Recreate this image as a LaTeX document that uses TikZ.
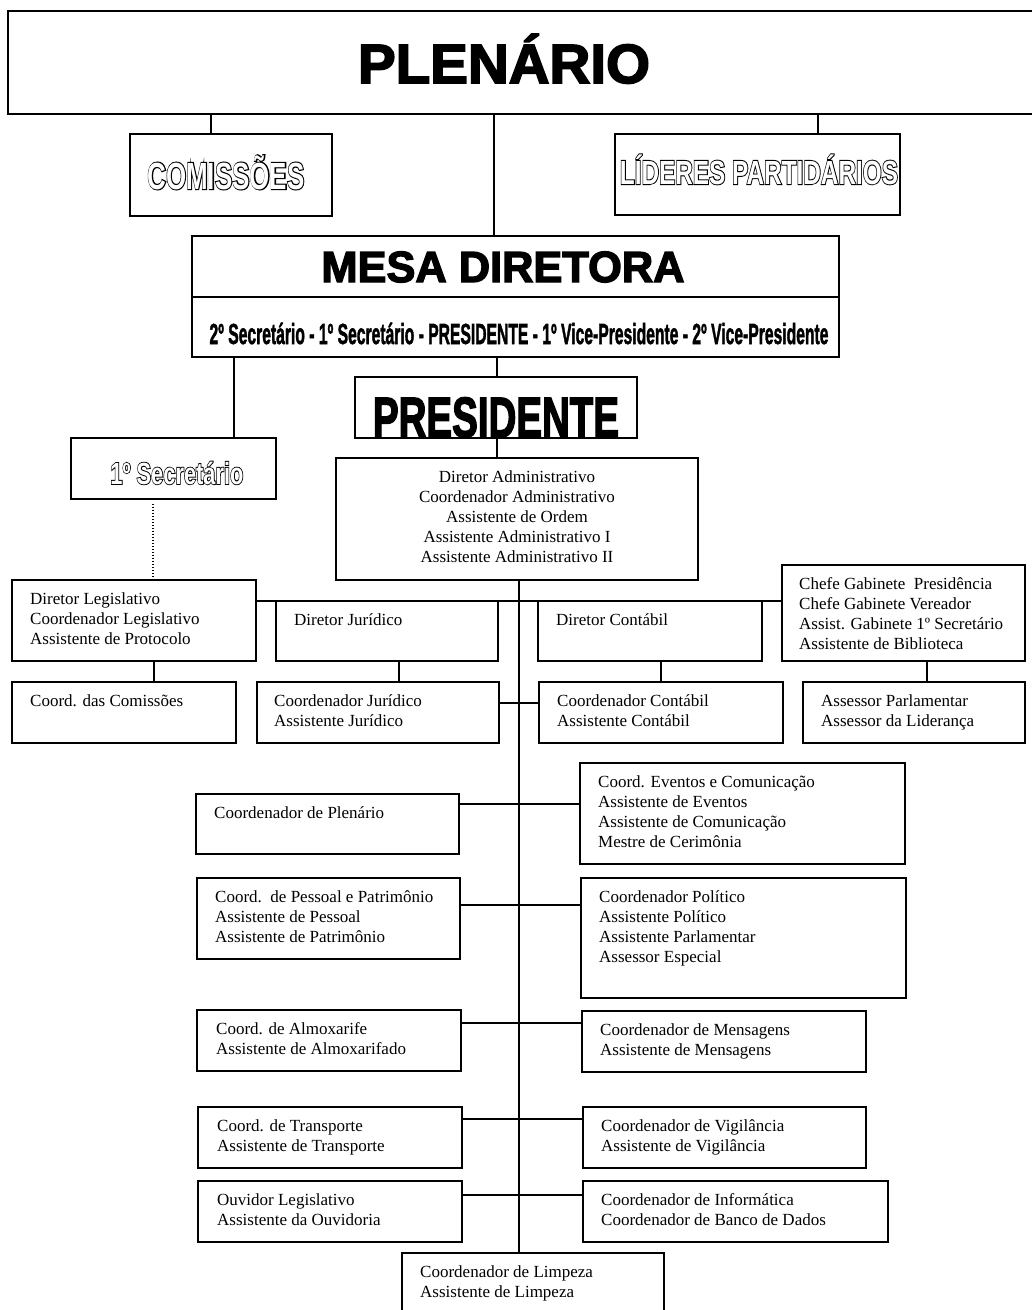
\documentclass[tikz,border=0pt]{standalone}
\usepackage{fontspec}
\setmainfont{Liberation Serif}
\newfontfamily\sansf{Liberation Sans}
\newfontfamily\heavyf{Liberation Sans}[BoldFeatures={FakeBold=3}]
\newfontfamily\semif{Liberation Sans}[BoldFeatures={FakeBold=2}]
\newfontfamily\halof{Liberation Sans}[BoldFeatures={FakeBold=6}]
\usepackage{graphicx}
\usetikzlibrary{fit}
\newcommand\fitcap[3]{\resizebox{#1}{#2}{\raisebox{0pt}[\fontcharht\font`H][0pt]{#3}}}
% outlined letters: a thick black copy under a white one
\newcommand\outl[1]{\rlap{\halof\bfseries #1}{\color{white}#1}}
\newcommand\bx[5]{\node[box, fit={(#2,#3) (#4,#5)}] (#1) {};}
\newcommand\tl[4]{\node[txt] (#1) at (#2,#3) {\rule{0pt}{16pt}#4};}
\tikzset{
  box/.style={draw, line width=1.6pt, inner sep=0pt, rectangle},
  txt/.style={inner sep=0pt, align=left, font=\fontsize{17}{20}\selectfont, anchor=north west},
  ctxt/.style={txt, align=center, anchor=north},
  ttl/.style={inner sep=0pt, anchor=base, font=\sansf\bfseries},
  heavy/.style={ttl, font=\heavyf\bfseries},
  semi/.style={ttl, font=\semif\bfseries},
  conn/.style={line width=1.6pt},
  hconn/.style={line width=2pt},
}
\begin{document}
\begin{tikzpicture}[x=1pt,y=-1pt]
\useasboundingbox (0,0) rectangle (1032,1310);
\clip (0,0) rectangle (1032,1310);
% boxes
\bx{plen}{8}{11}{1045}{114}
\bx{comiss}{130}{134}{332}{216}
\bx{lider}{615}{134}{900}{215}
\bx{mesa}{192}{236}{839}{357}
\bx{pres}{355}{377}{637}{438}
\bx{sec1}{71}{438}{276}{499}
\bx{admin}{336}{458}{698}{580}
\bx{dl}{12}{580}{256}{661}
\bx{jur}{276}{601}{498}{661}
\bx{cont}{538}{601}{762}{661}
\bx{chefe}{782}{565}{1025}{661}
\bx{comis2}{12}{682}{236}{743}
\bx{cjur}{257}{682}{499}{743}
\bx{ccont}{539}{682}{783}{743}
\bx{asse}{803}{682}{1025}{743}
\bx{plenar}{196}{794}{459}{854}
\bx{event}{580}{763}{905}{864}
\bx{pess}{197}{878}{460}{959}
\bx{polit}{581}{878}{906}{998}
\bx{almox}{197}{1010}{461}{1071}
\bx{mens}{582}{1011}{866}{1072}
\bx{transp}{198}{1107}{462}{1168}
\bx{vigil}{583}{1107}{866}{1168}
\bx{ouv}{198}{1181}{462}{1242}
\bx{info}{583}{1181}{888}{1242}
\bx{limp}{402}{1253}{664}{1330}
\draw[conn] (mesa.west |- 0,297) -- (mesa.east |- 0,297);
% titles
\node[heavy] (plent) at (504,83) {\fitcap{292pt}{38pt}{PLENÁRIO}};
\node[ttl] (comt) at (226,189) {\fitcap{157pt}{26pt}{\outl{COMISSÕES}}};
\node[ttl] (lidt) at (759,184) {\fitcap{278pt}{23pt}{\outl{LÍDERES PARTIDÁRIOS}}};
\node[heavy] (mesat) at (503,282) {\fitcap{363pt}{30pt}{MESA DIRETORA}};
\node[semi] (mesas) at (519,344) {\fitcap{619pt}{20pt}{2º Secretário - 1º Secretário - PRESIDENTE - 1º Vice-Presidente - 2º Vice-Presidente}};
\node[heavy] (prest) at (496,437) {\fitcap{246pt}{39pt}{PRESIDENTE}};
\node[ttl] (sec1t) at (177,484) {\fitcap{133pt}{21pt}{\outl{1º Secretário}}};
% body texts
\node[ctxt] (admint) at (517,466) {\rule{0pt}{16pt}Diretor Administrativo\\Coordenador Administrativo\\Assistente de Ordem\\Assistente Administrativo I\\Assistente Administrativo II};
\tl{dlt}{30}{588}{Diretor Legislativo\\Coordenador Legislativo\\Assistente de Protocolo}
\tl{jurt}{294}{609}{Diretor Jurídico}
\tl{contt}{556}{609}{Diretor Contábil}
\tl{chefet}{799}{573}{Chefe Gabinete\ \ Presidência\\Chefe Gabinete Vereador\\Assist. Gabinete 1º Secretário\\Assistente de Biblioteca}
\tl{comis2t}{30}{690}{Coord. das Comissões}
\tl{cjurt}{274}{690}{Coordenador Jurídico\\Assistente Jurídico}
\tl{ccontt}{557}{690}{Coordenador Contábil\\Assistente Contábil}
\tl{asset}{821}{690}{Assessor Parlamentar\\Assessor da Liderança}
\tl{plenart}{214}{802}{Coordenador de Plenário}
\tl{eventt}{598}{771}{Coord. Eventos e Comunicação\\Assistente de Eventos\\Assistente de Comunicação\\Mestre de Cerimônia}
\tl{pesst}{215}{886}{Coord.\ \ de Pessoal e Patrimônio\\Assistente de Pessoal\\Assistente de Patrimônio}
\tl{politt}{599}{886}{Coordenador Político\\Assistente Político\\Assistente Parlamentar\\Assessor Especial}
\tl{almoxt}{216}{1018}{Coord. de Almoxarife\\Assistente de Almoxarifado}
\tl{menst}{600}{1019}{Coordenador de Mensagens\\Assistente de Mensagens}
\tl{transpt}{217}{1115}{Coord. de Transporte\\Assistente de Transporte}
\tl{vigilt}{601}{1115}{Coordenador de Vigilância\\Assistente de Vigilância}
\tl{ouvt}{217}{1189}{Ouvidor Legislativo\\Assistente da Ouvidoria}
\tl{infot}{601}{1189}{Coordenador de Informática\\Coordenador de Banco de Dados}
\tl{limpt}{420}{1261}{Coordenador de Limpeza\\Assistente de Limpeza}
% connectors
\draw[conn] (plen.south -| 211,0) -- (comiss.north -| 211,0);
\draw[conn] (plen.south -| 818,0) -- (lider.north -| 818,0);
\draw[conn] (plen.south -| 494,0) -- (mesa.north -| 494,0);
\draw[conn] (mesa.south -| 234,0) -- (sec1.north -| 234,0);
\draw[conn] (mesa.south -| 497,0) -- (pres.north -| 497,0);
\draw[conn] (pres.south -| 497,0) -- (admin.north -| 497,0);
\draw[line width=1.3pt, dash pattern=on 1.5pt off 1.5pt] ([yshift=-4pt]sec1.south -| 153,0) -- ([yshift=3pt]dl.north -| 153,0);
\draw[conn] (admin.south -| 519,0) -- (limp.north -| 519,0);
\draw[conn] (dl.east |- 0,601) -- (chefe.west |- 0,601);
\draw[conn] (dl.south -| 154,0) -- (comis2.north -| 154,0);
\draw[conn] (jur.south -| 399,0) -- (cjur.north -| 399,0);
\draw[conn] (cont.south -| 661,0) -- (ccont.north -| 661,0);
\draw[conn] (chefe.south -| 927,0) -- (asse.north -| 927,0);
\draw[hconn] (cjur.east |- 0,703) -- (ccont.west |- 0,703);
\draw[hconn] (plenar.east |- 0,804) -- (event.west |- 0,804);
\draw[hconn] (pess.east |- 0,905) -- (polit.west |- 0,905);
\draw[hconn] (almox.east |- 0,1023) -- (mens.west |- 0,1023);
\draw[hconn] (transp.east |- 0,1119) -- (vigil.west |- 0,1119);
\draw[hconn] (ouv.east |- 0,1195) -- (info.west |- 0,1195);
\end{tikzpicture}
\end{document}
